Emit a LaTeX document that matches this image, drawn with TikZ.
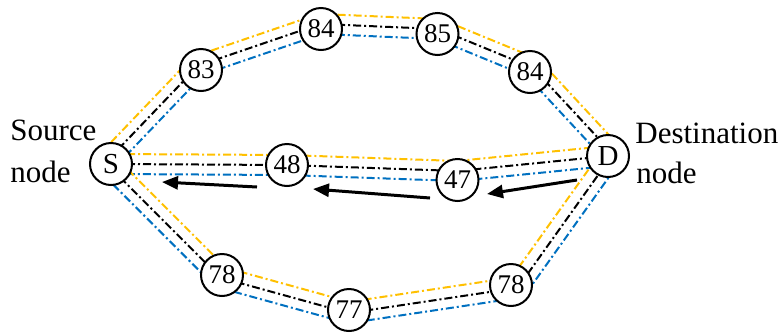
\documentclass[tikz,border=0pt]{standalone}
\usepackage{fontspec}
\setmainfont{LiberationSerif}[Extension=.ttf,UprightFont=*-Regular]
\newfontfamily\tnr{LiberationSerif}[Extension=.ttf,UprightFont=*-Regular]
\usetikzlibrary{calc,arrows.meta}
\pgfdeclarelayer{bg}
\pgfsetlayers{bg,main}
\definecolor{yel}{HTML}{FFC000}
\definecolor{blu}{HTML}{0070C0}
\tikzset{
  nd/.style={circle,draw,line width=1pt,fill=white,minimum size=21pt,inner sep=0pt,font=\tnr\fontsize{13.5}{16}\selectfont},
  ndl/.style={nd,font=\tnr\fontsize{14.5}{16}\selectfont},
  dd/.style={line width=1pt,dash pattern=on 4pt off 1.5pt on 1pt off 1.5pt},
  yl/.style={dd,draw=yel},
  bk/.style={dd,draw=black},
  bu/.style={dd,draw=blu},
  arr/.style={line width=1.5pt,-{Triangle[length=8pt,width=6.5pt]}},
  lbl/.style={font=\tnr\fontsize{15.5}{21}\selectfont,inner sep=0pt,anchor=base west}
}
\newcommand\offseg[4]{\draw[#1] ($(#2)!#4!90:(#3)$) -- ($(#3)!#4!-90:(#2)$);}
\begin{document}
\begin{tikzpicture}[x=0.5pt,y=-0.5pt]
\useasboundingbox (0,0) rectangle (783,333);
% nodes
\node[ndl] (S) at (111,164) {S};
\node[ndl] (D) at (608,156) {D};
\node[nd] (n83) at (201,70) {83};
\node[nd] (n84a) at (321,29) {84};
\node[nd] (n85) at (437.5,34) {85};
\node[nd] (n84b) at (530,72) {84};
\node[nd] (n48) at (287,165) {48};
\node[nd] (n47) at (457.5,180) {47};
\node[nd] (n78a) at (222,275) {78};
\node[nd] (n77) at (349,310) {77};
\node[nd] (n78b) at (511,285) {78};
\coordinate (m47) at ($(n47.center)+(0,-9)$);
\coordinate (l78b) at ($(n78b.center)+(5,0)$);
% labels
\node[lbl] (src1) at (10,140) {Source};
\node[lbl] (src2) at (10,182) {node};
\node[lbl] (dst1) at (635,143) {Destination};
\node[lbl] (dst2) at (636,183) {node};
% routes
\begin{pgfonlayer}{bg}
  \foreach \a/\b in {S/n83,n83/n84a,n84a/n85,n85/n84b,n84b/D}{
    \offseg{yl}{\a.center}{\b.center}{7.5pt}
    \offseg{bk}{\a.center}{\b.center}{2.5pt}
    \offseg{bu}{\a.center}{\b.center}{-2.5pt}
  }
  \foreach \a/\b in {S/n48,n48/m47,m47/D}{
    \offseg{yl}{\a.center}{\b.center}{5pt}
    \offseg{bk}{\a.center}{\b.center}{0pt}
    \offseg{bu}{\a.center}{\b.center}{-5pt}
  }
  \foreach \a/\b in {S/n78a,n78a/n77,n77/l78b,l78b/D}{
    \offseg{yl}{\a.center}{\b.center}{4pt}
    \offseg{bk}{\a.center}{\b.center}{-1.5pt}
    \offseg{bu}{\a.center}{\b.center}{-6.5pt}
  }
\end{pgfonlayer}
% arrows
\coordinate (t1) at (257,187); \coordinate (h1) at (162,182);
\coordinate (t2) at (430,198); \coordinate (h2) at (313,189);
\coordinate (t3) at (577,180); \coordinate (h3) at (487,194);
\draw[arr] (t1) -- (h1);
\draw[arr] (t2) -- (h2);
\draw[arr] (t3) -- (h3);
\end{tikzpicture}
\end{document}
